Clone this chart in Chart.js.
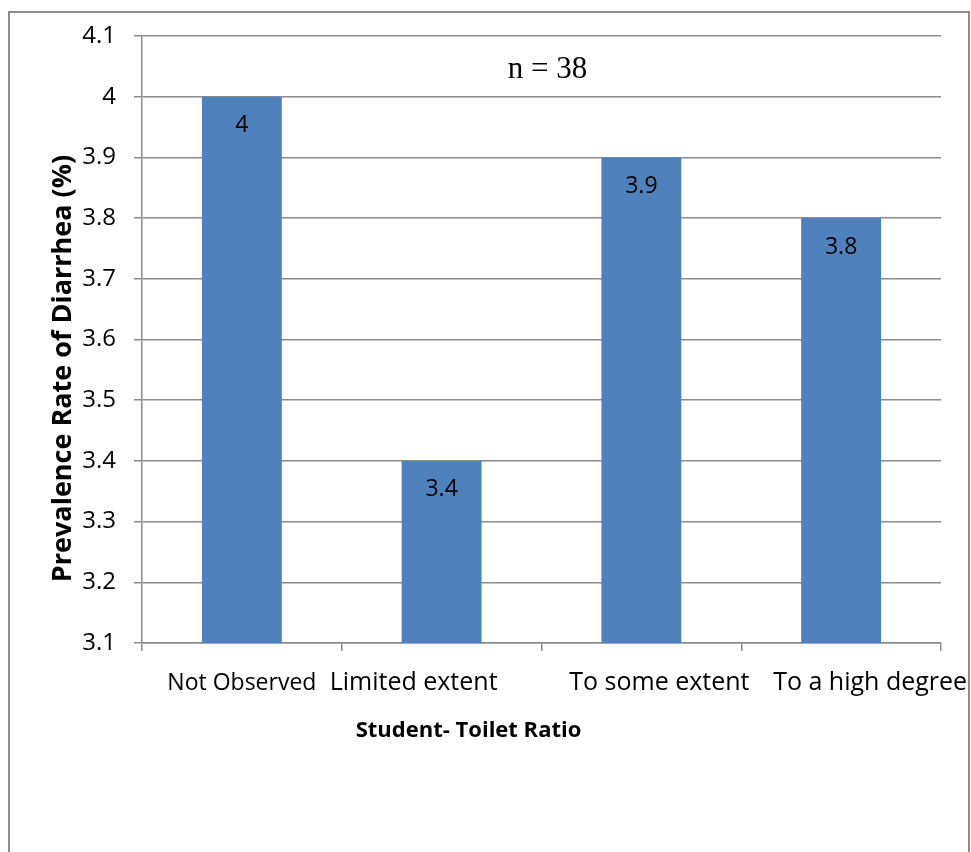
<!DOCTYPE html>
<html>
<head>
<meta charset="utf-8">
<script src="https://cdn.jsdelivr.net/npm/chart.js@4.4.1/dist/chart.umd.min.js"></script>
<style>
  html, body { margin: 0; padding: 0; background: #fff; overflow: hidden; }
  #wrap { position: relative; width: 971px; height: 852px; }
  #frame { position: absolute; left: 8px; top: 11px; width: 958px; height: 900px;
           border: 2px solid #8c8c8c; pointer-events: none; }
</style>
</head>
<body>
<div id="wrap">
  <canvas id="c" width="971" height="852"></canvas>
  <div id="frame"></div>
</div>
<script>
const categories = ['Not Observed', 'Limited extent', 'To some extent', 'To a high degree'];
const prevalence = [4.0, 3.4, 3.9, 3.8];
const yTickLabels = ['3.1', '3.2', '3.3', '3.4', '3.5', '3.6', '3.7', '3.8', '3.9', '4', '4.1'];
const yAxisTitle = 'Prevalence Rate of Diarrhea (%)';
const xAxisTitle = 'Student- Toilet Ratio';
const noteText = 'n = 38';

const SANS = "'Open Sans', 'DejaVu Sans', sans-serif";
const GRID = '#8c8c8c';

const labelOffsets = [0, -28, 18, 29];
const labelSizes = [23, 25, 25, 25];

const extrasPlugin = {
  id: 'extras',
  afterDatasetsDraw(chart) {
    const ctx = chart.ctx;
    const meta = chart.getDatasetMeta(0);
    ctx.save();
    ctx.fillStyle = '#000';
    ctx.font = '23px ' + SANS;
    ctx.textAlign = 'center';
    ctx.textBaseline = 'middle';
    meta.data.forEach((el, i) => {
      const v = chart.data.datasets[0].data[i];
      ctx.fillText(String(v), el.x, el.y + 29);
    });
    ctx.restore();
  },
  afterDraw(chart) {
    const ctx = chart.ctx;
    const ca = chart.chartArea;
    const xs = chart.scales.x;
    ctx.save();
    ctx.fillStyle = '#000';
    ctx.textAlign = 'center';
    ctx.textBaseline = 'middle';
    categories.forEach((lab, i) => {
      ctx.font = labelSizes[i] + 'px ' + SANS;
      ctx.fillText(lab, xs.getPixelForValue(i) + labelOffsets[i], ca.bottom + 40);
    });
    ctx.font = 'bold 22px ' + SANS;
    ctx.fillText(xAxisTitle, (ca.left + ca.right) / 2 - 73, ca.bottom + 88);
    ctx.save();
    ctx.translate(63, (ca.top + ca.bottom) / 2 + 29);
    ctx.rotate(-Math.PI / 2);
    ctx.font = 'bold 27px ' + SANS;
    ctx.fillText(yAxisTitle, 0, 0);
    ctx.restore();
    ctx.font = "31px 'Liberation Serif', 'Times New Roman', serif";
    ctx.fillText(noteText, (ca.left + ca.right) / 2 + 6, ca.top + 34);
    ctx.restore();
  }
};

new Chart(document.getElementById('c'), {
  type: 'bar',
  data: {
    labels: categories,
    datasets: [{
      data: prevalence,
      backgroundColor: '#4f81bd',
      borderWidth: 0,
      categoryPercentage: 1.0,
      barPercentage: 0.4
    }]
  },
  options: {
    responsive: false,
    animation: false,
    devicePixelRatio: 1,
    layout: { padding: { top: 36, right: 30, left: 0, bottom: 0 } },
    plugins: { legend: { display: false }, tooltip: { enabled: false }, title: { display: false } },
    scales: {
      x: {
        grid: { display: true, offset: true, drawOnChartArea: false, drawTicks: true, tickLength: 8, color: GRID, lineWidth: 1.5 },
        border: { display: true, color: GRID, width: 1.5 },
        ticks: { display: false },
        afterFit(scale) { scale.height = 852 - 643; }
      },
      y: {
        min: 3.1,
        max: 4.1,
        grid: { color: GRID, lineWidth: 1.5, drawTicks: true, tickLength: 8 },
        border: { display: true, color: GRID, width: 1.5 },
        ticks: {
          stepSize: 0.1,
          padding: 18,
          color: '#000',
          font: { family: SANS, size: 24 },
          callback: (v) => {
            const idx = Math.round((v - 3.1) * 10);
            return yTickLabels[idx];
          }
        },
        afterFit(scale) { scale.width = 142; }
      }
    }
  },
  plugins: [extrasPlugin]
});
</script>
</body>
</html>
